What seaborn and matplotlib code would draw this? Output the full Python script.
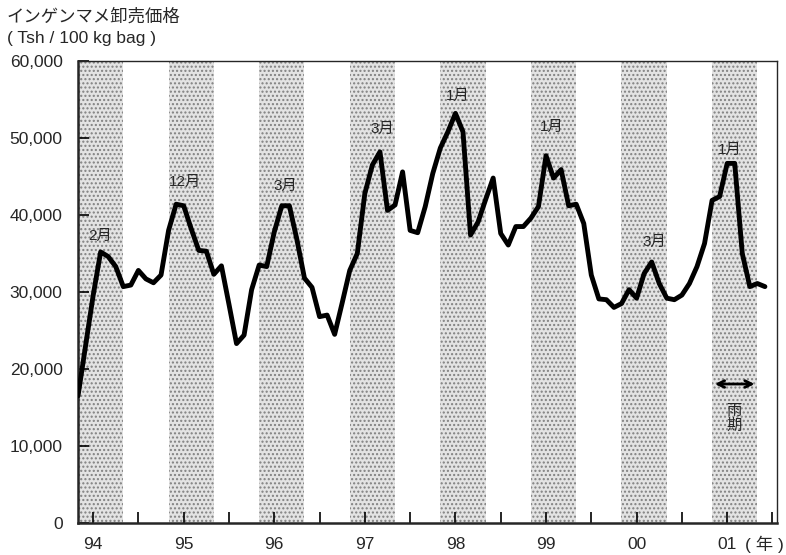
import numpy as np
import pandas as pd
import matplotlib
matplotlib.use("Agg")
import matplotlib.pyplot as plt
import seaborn as sns

# monthly wholesale price, Nov 1993 - Jun 2001 (Tsh / 100 kg bag)
months = pd.period_range("1993-11", "2001-06", freq="M").astype(str).tolist()
price = [16500, 23000,
         29500, 35200, 34600, 33300, 30700, 30900, 32800, 31700, 31200, 32200, 38000, 41400,
         41200, 38200, 35400, 35300, 32300, 33400, 28400, 23300, 24400, 30300, 33500, 33300,
         37800, 41200, 41200, 36800, 31800, 30600, 26800, 27000, 24500, 28600, 32800, 35000,
         42800, 46500, 48200, 40600, 41300, 45600, 38000, 37700, 41100, 45400, 48700, 50800,
         53200, 50800, 37400, 39100, 42000, 44800, 37600, 36100, 38500, 38500, 39600, 41100,
         47700, 44800, 45900, 41200, 41400, 38900, 32200, 29100, 29000, 28000, 28500, 30300,
         29200, 32400, 33900, 31100, 29200, 29000, 29600, 31100, 33300, 36300, 41900, 42400,
         46700, 46700, 35000, 30700, 31100, 30700]

year_labels = ["94", "95", "96", "97", "98", "99", "00", "01"]
# rainy season: November to April
rainy_start = [0, 12, 24, 36, 48, 60, 72, 84]
rainy_end = [6, 18, 30, 42, 54, 66, 78, 90]

# peak labels: (month index, y position, text)
peak_idx = [2.9, 14.2, 27.4, 40.3, 50.3, 62.8, 76.4, 86.4]
peak_y = [37300, 44300, 43800, 51200, 55400, 51400, 36500, 48400]
peak_text = ["2月", "12月", "3月", "3月", "1月", "1月", "3月", "1月"]

df = pd.DataFrame({"idx": np.arange(len(price)), "month": months, "price": price})

sns.set_style("ticks")
plt.rcParams["font.family"] = ["Liberation Sans", "Noto Sans CJK JP"]

fig = plt.figure(figsize=(7.86, 5.55), dpi=100)
ax = fig.add_axes([78 / 786, 1 - 523 / 555, 699 / 786, 462 / 555])

for s, e in zip(rainy_start, rainy_end):
    ax.axvspan(s, e, facecolor="#e3e3e3", edgecolor="#808080", hatch="....", linewidth=0, zorder=0)

sns.lineplot(data=df, x="idx", y="price", color="black", linewidth=3.5, ax=ax, zorder=3)

ax.set_xlim(0, 92.6)
ax.set_ylim(0, 60000)
ax.set_yticks(np.arange(0, 60001, 10000))
ax.set_yticklabels([f"{v:,}" for v in range(0, 60001, 10000)], fontsize=12.5)
ax.set_xticks([2 + 12 * i for i in range(len(year_labels))])
ax.set_xticklabels(year_labels, fontsize=12.5)
ax.set_xticks([8 + 12 * i for i in range(8)], minor=True)
ax.tick_params(axis="both", which="both", direction="in", length=8, width=1.2, color="black")
ax.tick_params(axis="x", which="major", pad=10)
ax.tick_params(axis="y", pad=11)
ax.set_xlabel("")
ax.set_ylabel("")
for sp in ax.spines.values():
    sp.set_visible(True)
    sp.set_linewidth(1.0)
ax.spines["left"].set_linewidth(1.8)
ax.spines["bottom"].set_linewidth(1.8)

for xi, yi, t in zip(peak_idx, peak_y, peak_text):
    ax.text(xi, yi, t, ha="center", va="center", fontsize=11)

ax.annotate("", xy=(84, 18050), xytext=(90, 18050),
            arrowprops=dict(arrowstyle="<->", lw=2, color="black", mutation_scale=12))
ax.text(86.9, 13600, "雨\n期", ha="center", va="center", fontsize=11, linespacing=1.05)

fig.text(7 / 786, 1 - 16 / 555, "インゲンマメ卸売価格", fontsize=12.5, va="center", ha="left")
fig.text(7 / 786, 1 - 38 / 555, "( Tsh / 100 kg bag )", fontsize=12.5, va="center", ha="left")
fig.text(745 / 786, 1 - 544 / 555, "( 年 )", fontsize=12.5, va="center", ha="left")

fig.savefig("out.png", dpi=100)
